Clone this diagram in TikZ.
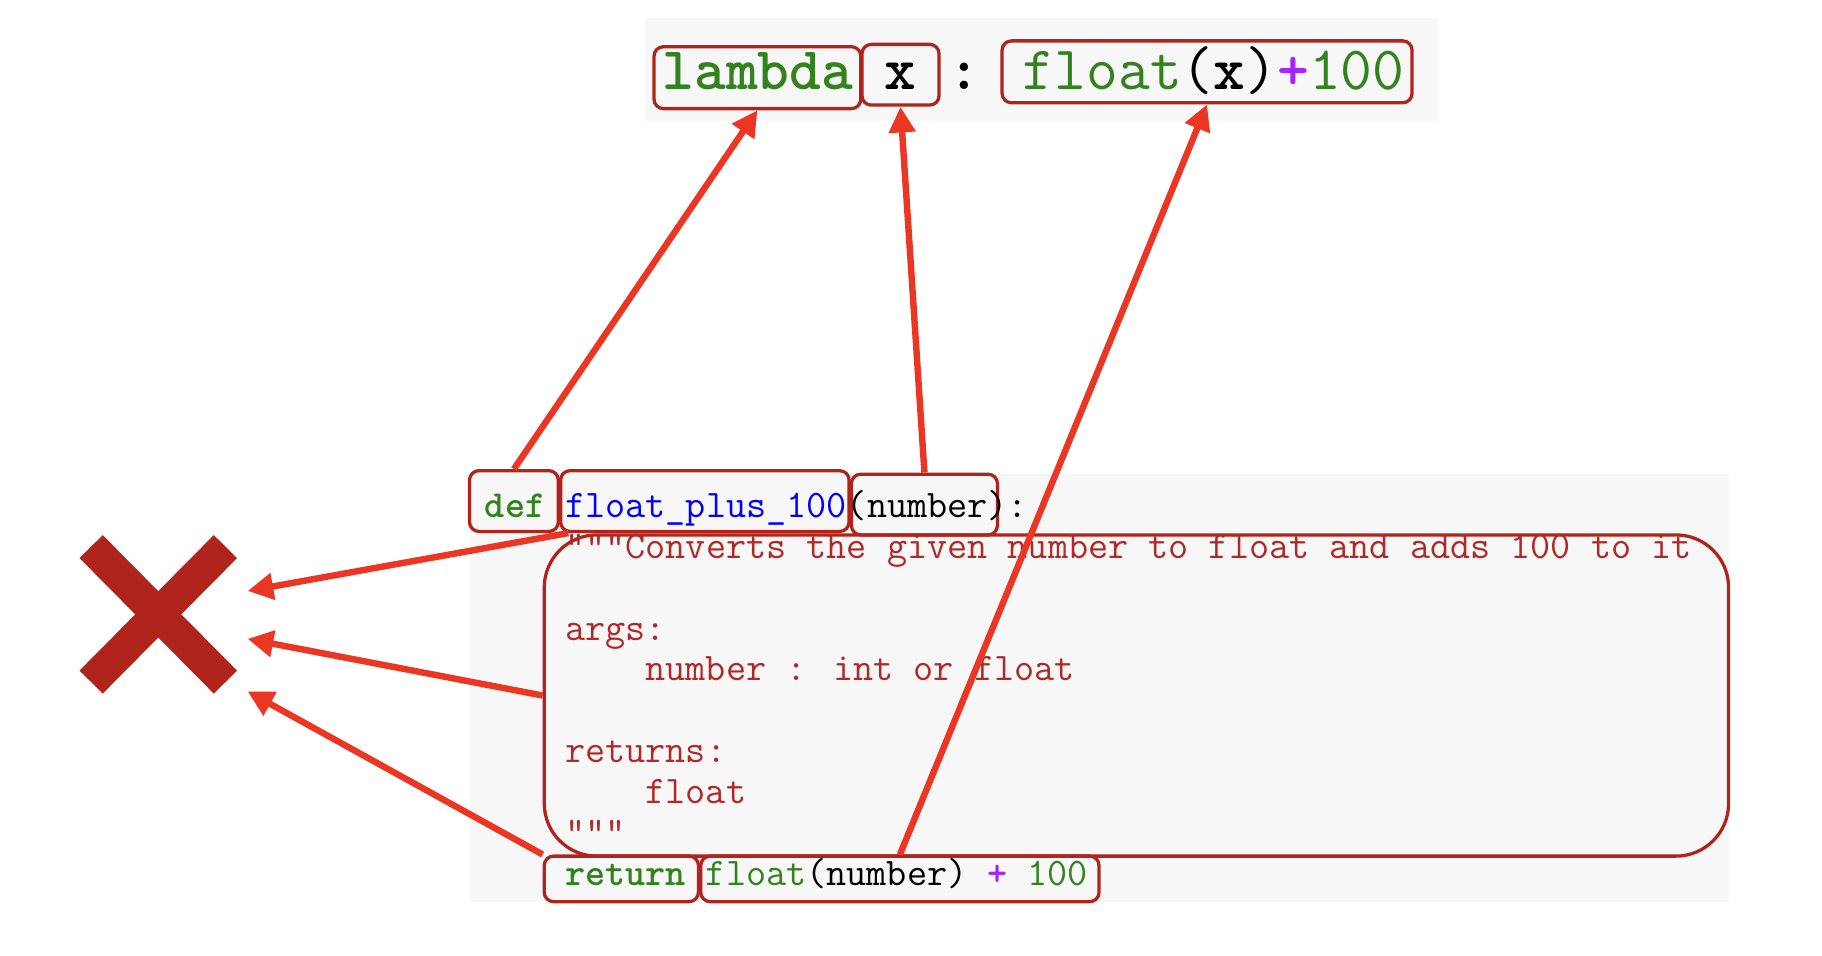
\documentclass[tikz,border=0pt]{standalone}
\usepackage{fontspec}
\usetikzlibrary{arrows.meta}
\definecolor{boxred}{RGB}{176,36,28}
\definecolor{arrred}{RGB}{236,54,36}
\definecolor{kwgreen}{RGB}{50,130,30}
\definecolor{defblue}{RGB}{0,0,255}
\definecolor{strred}{RGB}{176,40,40}
\definecolor{oppurple}{RGB}{170,34,255}
\definecolor{codebg}{RGB}{247,247,247}
\makeatletter
\newcommand{\bfx}[1]{{\bfseries\fontsize{\fpeval{\f@size*0.9796}}{\f@baselineskip}\selectfont #1}}
\makeatother
\newcommand{\kw}[1]{\textcolor{kwgreen}{\bfx{#1}}}
\newcommand{\gr}[1]{\textcolor{kwgreen}{#1}}
\newcommand{\op}[1]{\textcolor{oppurple}{\bfx{#1}}}
\begin{document}
\begin{tikzpicture}[x=1pt,y=-1pt,
  hbox/.style={draw=boxred,line width=2.8pt,rounded corners=8pt,inner sep=0pt},
  conn/.style={draw=arrred,line width=5.5pt,-{Triangle[length=22pt,width=22pt]}},
  bigtxt/.style={anchor=base west,inner sep=0pt,font=\ttfamily\fontsize{52.9}{56}\selectfont},
  code/.style={anchor=base west,inner sep=0pt,font=\ttfamily\fontsize{33.44}{35}\selectfont},
  xstroke/.style={draw=boxred,line width=28pt,line cap=butt}]
\useasboundingbox (0,0) rectangle (1560,818.5);
% backgrounds
\fill[codebg] (552,15) rectangle (1231,104);
\fill[codebg] (402,406) rectangle (1480,772);
% boxes
\node[hbox,minimum width=177pt,minimum height=53pt] (lam) at (648.5,66.5) {};
\node[hbox,minimum width=66pt,minimum height=52pt] (xv) at (771,64) {};
\node[hbox,minimum width=351pt,minimum height=53pt] (fl) at (1033.5,61.5) {};
\node[hbox,minimum width=76pt,minimum height=52pt] (defb) at (440,429) {};
\node[hbox,minimum width=247pt,minimum height=52pt] (fname) at (603.5,429) {};
\node[hbox,minimum width=125pt,minimum height=52pt] (numb) at (791.5,432) {};
\node[hbox,rounded corners=45pt,minimum width=1014pt,minimum height=275pt] (doc) at (973,595.5) {};
\node[hbox,minimum width=132pt,minimum height=39pt] (ret) at (532,752.5) {};
\node[hbox,minimum width=341pt,minimum height=39pt] (retx) at (770.5,752.5) {};
% lambda line
\node[bigtxt] (lamtxt) at (567,77) {\kw{lambda} \bfx{x} \bfx{:} \gr{float}(\bfx{x})\op{+}\gr{100}};
% code lines
\node[code] (l0) at (415,443) {\kw{def} \textcolor{defblue}{float\_plus\_100}(number):};
\node[code,text=strred] (l1) at (483.8,478) {"""Converts the given number to float and adds 100 to it};
\node[code,text=strred] (l3) at (483.8,548) {args:};
\node[code,text=strred] (l4) at (552.6,583) {number : int or float};
\node[code,text=strred] (l6) at (483.8,653) {returns:};
\node[code,text=strred] (l7) at (552.6,688) {float};
\node[code,text=strred] (l8) at (483.8,723) {"""};
\node[code] (l9) at (483.8,758) {\kw{return} \gr{float}(number) \op{+} \gr{100}};
% big cross
\draw[xstroke] (78,468) -- (193,584);
\draw[xstroke] (78,584) -- (193,468);
\coordinate (xa) at (212,506);
\coordinate (xb) at (212,547);
\coordinate (xc) at (212,592);
\coordinate (fnsw) at ([xshift=8pt]fname.south west);
% connectors
\draw[conn] (defb.north) -- (lam.south);
\draw[conn] (numb.north) -- (xv.south);
\draw[conn] (retx.north) -- (fl.south);
\draw[conn] (fnsw) -- (xa);
\draw[conn] (doc.west) -- (xb);
\draw[conn] (ret.north west) -- (xc);
\end{tikzpicture}
\end{document}
